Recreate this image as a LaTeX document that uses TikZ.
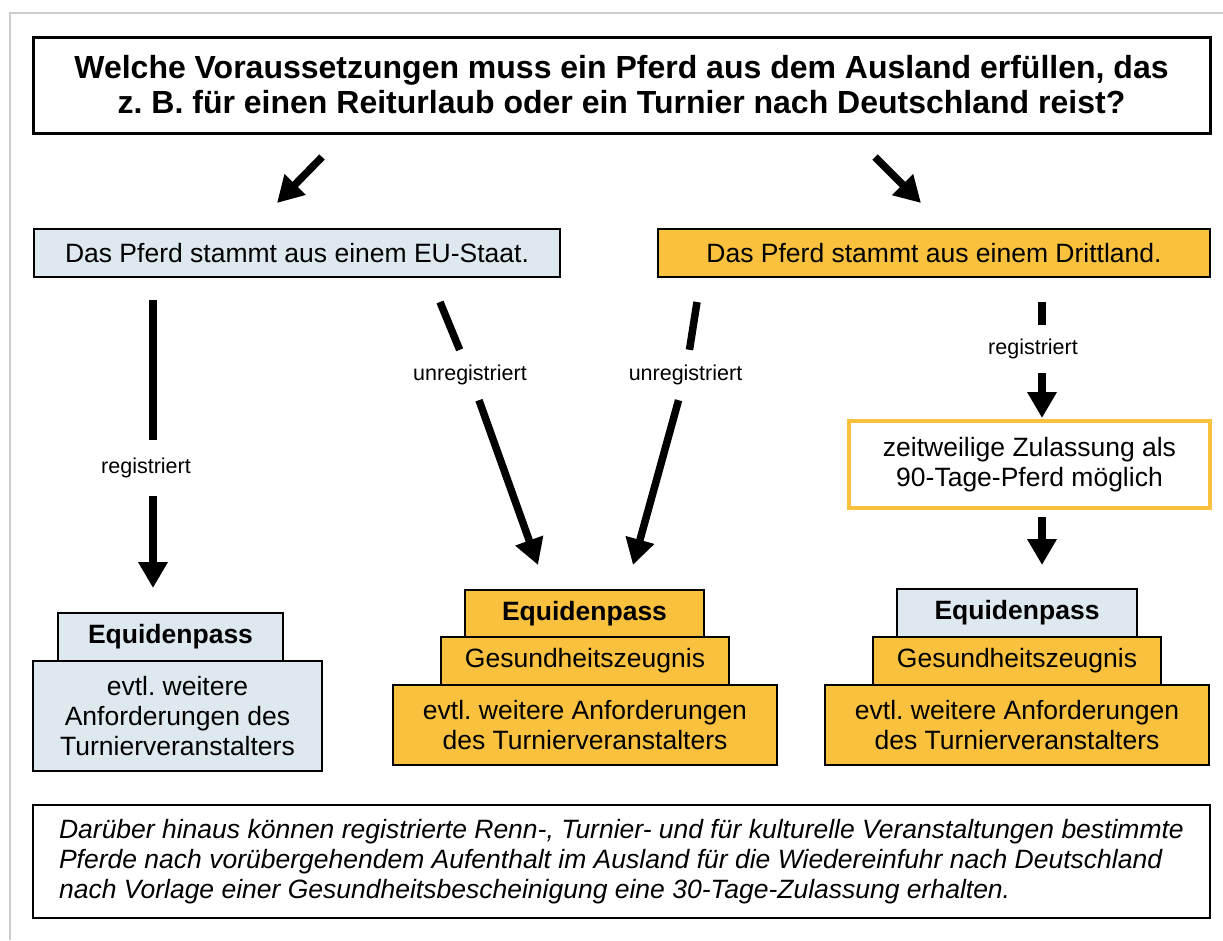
\documentclass[tikz,border=0pt]{standalone}
\usepackage{fontspec}
\setmainfont{Liberation Sans}
\usetikzlibrary{arrows.meta}
\definecolor{paleblue}{HTML}{DEE8EF}
\definecolor{horseorange}{HTML}{F9C13D}
\frenchspacing

\begin{document}
\begin{tikzpicture}[x=1pt, y=-1pt,
		plainbox/.style={draw=black, line width=1.3pt, inner sep=0pt, align=center,
			font=\fontsize{26.5}{30}\selectfont},
		eubox/.style={plainbox, fill=paleblue},
		thirdbox/.style={plainbox, fill=horseorange},
		passbox/.style={font=\fontsize{26.5}{30}\selectfont\bfseries},
		arrowlabel/.style={inner sep=0pt, minimum height=50pt, font=\fontsize{21.5}{24}\selectfont},
		fat/.style={line width=7.5pt},
		fatarrow/.style={fat, -{Triangle[width=28pt,length=26pt]}}]
		\useasboundingbox (0,0) rectangle (1223,940);
		% draw frame
		\draw [gray!40, line width=2pt] (10,940) -- (10,13) -- (1223,13);
		% draw question
		\node [plainbox, line width=3pt, minimum width=1177pt, minimum height=96pt,
			font=\fontsize{32}{35}\selectfont\bfseries] (question) at (621.5,85)
			{Welche Voraussetzungen muss ein Pferd aus dem Ausland erfüllen, das\\
			 z. B. für einen Reiturlaub oder ein Turnier nach Deutschland reist?};
		% draw origin boxes
		\node [eubox, minimum width=526pt, minimum height=48pt] (eu) at (297,253)
			{Das Pferd stammt aus einem EU-Staat.};
		\node [thirdbox, minimum width=552pt, minimum height=48pt] (third) at (934,253)
			{Das Pferd stammt aus einem Drittland.};
		% draw temporary admission
		\node [plainbox, draw=horseorange, line width=4pt, minimum width=361pt, minimum height=87pt]
			(admit) at (1029.5,464.5) {zeitweilige Zulassung als\\90-Tage-Pferd möglich};
		% draw left stack
		\node [eubox, passbox, minimum width=225pt, minimum height=48pt] (lpass) at (170.5,637) {Equidenpass};
		\node [eubox, minimum width=289pt, minimum height=110pt] (lmore) at (177.5,716)
			{evtl. weitere\\Anforderungen des\\Turnierveranstalters};
		% draw middle stack
		\node [thirdbox, passbox, minimum width=239pt, minimum height=47pt] (mpass) at (584.5,613.5) {Equidenpass};
		\node [thirdbox, minimum width=288pt, minimum height=48pt] (mhealth) at (585,661) {Gesundheitszeugnis};
		\node [thirdbox, minimum width=384pt, minimum height=80pt] (mmore) at (585,725)
			{evtl. weitere Anforderungen\\des Turnierveranstalters};
		% draw right stack
		\node [eubox, passbox, minimum width=240pt, minimum height=48pt] (rpass) at (1017,613) {Equidenpass};
		\node [thirdbox, minimum width=288pt, minimum height=48pt] (rhealth) at (1017,661) {Gesundheitszeugnis};
		\node [thirdbox, minimum width=384pt, minimum height=80pt] (rmore) at (1017,725)
			{evtl. weitere Anforderungen\\des Turnierveranstalters};
		% draw note
		\node [plainbox, minimum width=1177pt, minimum height=113pt, align=left,
			font=\fontsize{26.5}{30}\selectfont\itshape] (note) at (621.5,861.5)
			{Darüber hinaus können registrierte Renn-, Turnier- und für kulturelle Veranstaltungen bestimmte\\
			 Pferde nach vorübergehendem Aufenthalt im Ausland für die Wiedereinfuhr nach Deutschland\\
			 nach Vorlage einer Gesundheitsbescheinigung eine 30-Tage-Zulassung erhalten.};
		% draw labels
		\node [arrowlabel, minimum height=55pt] (lreg) at (146,468) {registriert};
		\node [arrowlabel] (lunreg) at (470,375) {unregistriert};
		\node [arrowlabel] (runreg) at (685.5,375) {unregistriert};
		\node [arrowlabel, minimum height=48pt] (rreg) at (1033,349) {registriert};
		% arrow ends
		\coordinate (q1) at (322,157);
		\coordinate (q2) at (277,203);
		\coordinate (q3) at (875,157);
		\coordinate (q4) at (921,203);
		\coordinate (l1) at (153,300);
		\coordinate (l2) at (153,588);
		\coordinate (m1) at (440,302);
		\coordinate (m2) at (538,565);
		\coordinate (n1) at (697,302);
		\coordinate (n2) at (633,565);
		\coordinate (r1) at (1042,302);
		\coordinate (r2) at (1042,418);
		\coordinate (r3) at (1042,517);
		\coordinate (r4) at (1042,565);
		% draw arrows from question
		\draw [fatarrow] (q1) -- (q2);
		\draw [fatarrow] (q3) -- (q4);
		% draw registered eu arrow
		\draw [fat] (l1) -- (l1 |- lreg.north);
		\draw [fatarrow] (l1 |- lreg.south) -- (l2);
		% draw unregistered arrows
		\draw [fat] (m1) -- (lunreg);
		\draw [fatarrow] (lunreg) -- (m2);
		\draw [fat] (n1) -- (runreg);
		\draw [fatarrow] (runreg) -- (n2);
		% draw registered third country arrows
		\draw [fat] (r1) -- (r1 |- rreg.north);
		\draw [fatarrow] (r1 |- rreg.south) -- (r2);
		\draw [fatarrow] (r3) -- (r4);
	\end{tikzpicture}
\end{document}
